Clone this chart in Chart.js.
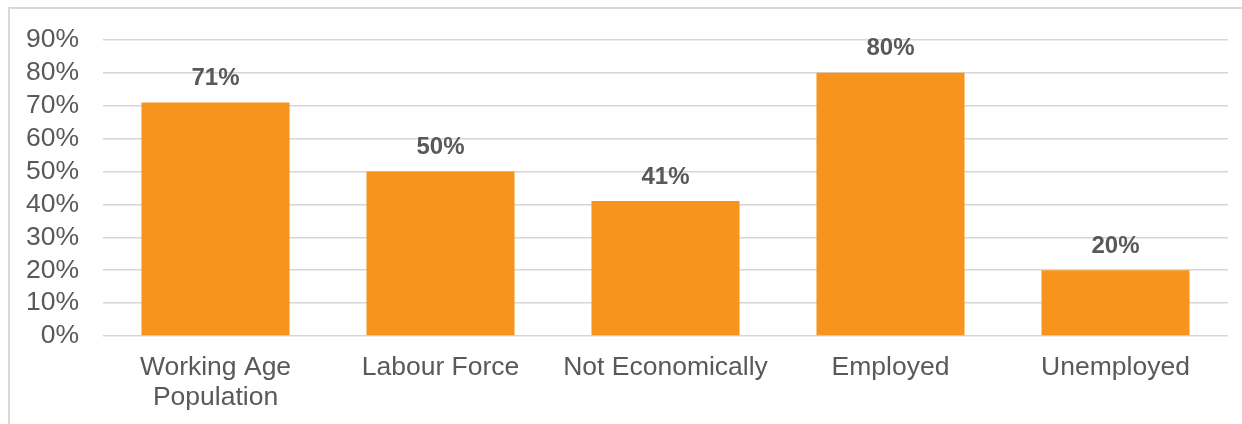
<!DOCTYPE html>
<html>
<head>
<meta charset="utf-8">
<script src="https://cdn.jsdelivr.net/npm/chart.js@4"></script>
<style>
  html, body { margin: 0; padding: 0; background: #fff; }
  body { width: 1242px; height: 424px; overflow: hidden; position: relative; }
  #frame {
    position: absolute; left: 8px; top: 7px; width: 1260px; height: 440px;
    border: 2px solid #d9d9d9; box-sizing: border-box;
  }
  #chartWrap { position: absolute; left: 0; top: 0; width: 1242px; height: 424px; }
</style>
</head>
<body>
<div id="frame"></div>
<div id="chartWrap"><canvas id="statusChart"></canvas></div>
<script>
  // Labour market shares
  const categories = [['Working Age', 'Population'], 'Labour Force', 'Not Economically', 'Employed', 'Unemployed'];
  const shares = [71, 50, 41, 80, 20];
  const yTicks = [0, 10, 20, 30, 40, 50, 60, 70, 80, 90];

  const fontFamily = '"Liberation Sans", Arial, sans-serif';
  const textGray = '#595959';

  // writes the value above each bar
  const valueLabels = {
    id: 'valueLabels',
    afterDatasetsDraw(chart) {
      const ctx = chart.ctx;
      const meta = chart.getDatasetMeta(0);
      ctx.save();
      ctx.font = 'bold 24px ' + fontFamily;
      ctx.fillStyle = textGray;
      ctx.textAlign = 'center';
      ctx.textBaseline = 'middle';
      meta.data.forEach((bar, i) => {
        ctx.fillText(shares[i] + '%', bar.x, bar.y - 24);
      });
      ctx.restore();
    }
  };

  const ctx = document.getElementById('statusChart').getContext('2d');
  new Chart(ctx, {
    type: 'bar',
    data: {
      labels: categories,
      datasets: [{
        data: shares,
        backgroundColor: '#F7941E',
        borderWidth: 0,
        categoryPercentage: 1,
        barPercentage: 0.658
      }]
    },
    options: {
      responsive: true,
      maintainAspectRatio: false,
      animation: false,
      layout: { padding: { top: 38, right: 14, bottom: 0, left: 0 } },
      plugins: {
        legend: { display: false },
        tooltip: { enabled: false }
      },
      scales: {
        y: {
          min: 0,
          max: 90,
          afterFit: scale => { scale.width = 103; },
          afterBuildTicks: scale => { scale.ticks = yTicks.map(v => ({ value: v })); },
          border: { display: false },
          grid: { color: '#d6d6d6', lineWidth: 1.5, drawTicks: false },
          ticks: {
            padding: 24,
            autoSkip: false,
            color: textGray,
            font: { family: fontFamily, size: 26.5 },
            callback: v => v + '%'
          }
        },
        x: {
          afterFit: scale => { scale.height = 88; },
          border: { display: false },
          grid: { display: false, drawTicks: false },
          ticks: {
            padding: 17,
            color: textGray,
            maxRotation: 0,
            autoSkip: false,
            font: { family: fontFamily, size: 26.5, lineHeight: 1.13 }
          }
        }
      }
    },
    plugins: [valueLabels]
  });
</script>
</body>
</html>
